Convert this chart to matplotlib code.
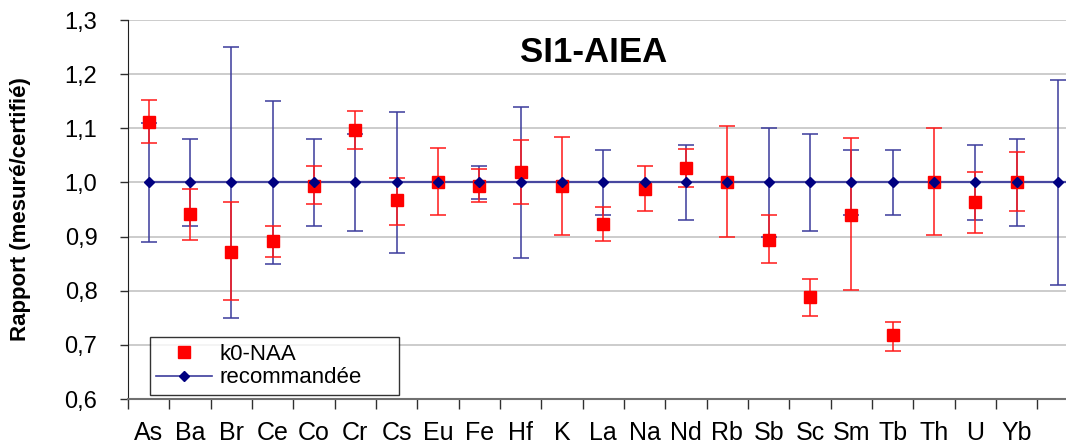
import numpy as np
import matplotlib
matplotlib.use("Agg")
import matplotlib.pyplot as plt
from matplotlib.ticker import FixedLocator, FuncFormatter

plt.rcParams['font.family'] = ['Liberation Sans', 'DejaVu Sans']

# categories (last two have no label in the picture)
elements = ['As', 'Ba', 'Br', 'Ce', 'Co', 'Cr', 'Cs', 'Eu', 'Fe', 'Hf', 'K', 'La',
            'Na', 'Nd', 'Rb', 'Sb', 'Sc', 'Sm', 'Tb', 'Th', 'U', 'Yb', '', '']

# k0-NAA ratio with lower / upper bound of its error bar
k0_val = [1.112, 0.941, 0.871, 0.891, 0.994, 1.096, 0.967, 1.000, 0.994, 1.020, 0.994, 0.924,
          0.988, 1.026, 1.000, 0.894, 0.788, 0.940, 0.718, 1.000, 0.964, 1.000, np.nan, np.nan]
k0_low = [1.073, 0.893, 0.782, 0.863, 0.961, 1.061, 0.922, 0.939, 0.964, 0.961, 0.902, 0.891,
          0.947, 0.992, 0.900, 0.852, 0.754, 0.802, 0.689, 0.902, 0.907, 0.947, np.nan, np.nan]
k0_high = [1.152, 0.987, 0.964, 0.919, 1.031, 1.132, 1.008, 1.064, 1.025, 1.079, 1.084, 0.955,
           1.031, 1.061, 1.104, 0.939, 0.821, 1.082, 0.743, 1.100, 1.020, 1.056, np.nan, np.nan]

# recommended values (ratio 1) and their uncertainty
rec_val = [1.0] * 24
rec_err = [0.11, 0.08, 0.25, 0.15, 0.08, 0.09, 0.13, 0.0, 0.03, 0.14, 0.0, 0.06,
           0.0, 0.07, 0.0, 0.10, 0.09, 0.06, 0.06, 0.0, 0.07, 0.08, 0.19, 0.0]

x = np.arange(len(elements))
k0_val = np.array(k0_val)
err_lo = k0_val - np.array(k0_low)
err_hi = np.array(k0_high) - k0_val

fig = plt.figure(figsize=(10.66, 4.48), dpi=100)
ax = fig.add_axes([128 / 1066, 49 / 448, 992 / 1066, 379 / 448])

navy = '#000080'
blue_bar = '#3c3c9c'

# recommended: line + error bars
ax.errorbar(x, rec_val, yerr=rec_err, fmt='none', ecolor=blue_bar, elinewidth=1.3,
            capsize=6, capthick=1.3, alpha=0.85, zorder=3)
ax.plot(x, rec_val, color='#4848a0', lw=1.6, zorder=3)

# k0-NAA
ax.errorbar(x, k0_val, yerr=[err_lo, err_hi], fmt='none', ecolor='#ff1a1a', elinewidth=1.3,
            capsize=6, capthick=1.3, alpha=0.85, zorder=4)
ax.plot(x, k0_val, 's', color='#ff0000', ms=8.5, zorder=5, label='k0-NAA')
ax.plot(x, rec_val, 'D', color=navy, ms=5.5, zorder=6)

# legend proxy for recommended (line + diamond)
ax.plot([], [], '-D', color='#3c3c9c', mfc=navy, mec=navy, ms=5.5, lw=1.2, label='recommandée')

ax.set_xlim(-0.5, len(elements) - 0.5)
ax.set_ylim(0.6, 1.3)
ax.set_yticks(np.arange(0.6, 1.31, 0.1))
ax.yaxis.set_major_formatter(FuncFormatter(lambda v, p: f'{v:.1f}'.replace('.', ',')))
ax.grid(axis='y', color='#c8c8c8', lw=1.3)
ax.set_axisbelow(True)

ax.set_xticks(x)
ax.set_xticklabels(elements, fontsize=18)
ax.xaxis.set_minor_locator(FixedLocator(np.arange(-0.5, len(elements), 1)))
ax.tick_params(axis='x', which='major', length=0, pad=16)
ax.tick_params(axis='x', which='minor', length=7, width=1, color='#303030', direction='out')
ax.tick_params(axis='y', length=6, width=1, pad=16, labelsize=17, color='#303030')

for s in ['top', 'right']:
    ax.spines[s].set_visible(False)
ax.spines['left'].set_color('#202020')
ax.spines['bottom'].set_color('#707070')
ax.spines['bottom'].set_linewidth(1.5)

ax.set_ylabel('Rapport (mesuré/certifié)', fontsize=16, fontweight='bold')
ax.yaxis.set_label_coords(-0.098, 0.5)

ax.text(0.469, 0.915, 'SI1-AIEA', transform=ax.transAxes, ha='center', va='center',
        fontsize=25, fontweight='bold')

leg = ax.legend(loc='lower left', bbox_to_anchor=(0.022, 0.0106, 0.251, 0.137), mode='expand',
                borderaxespad=0, fontsize=16, frameon=True, fancybox=False, edgecolor='black',
                handlelength=2.5, borderpad=0.3, labelspacing=0.1, handletextpad=0.35)
leg.get_frame().set_linewidth(1.0)

fig.savefig('out.png', dpi=100)
